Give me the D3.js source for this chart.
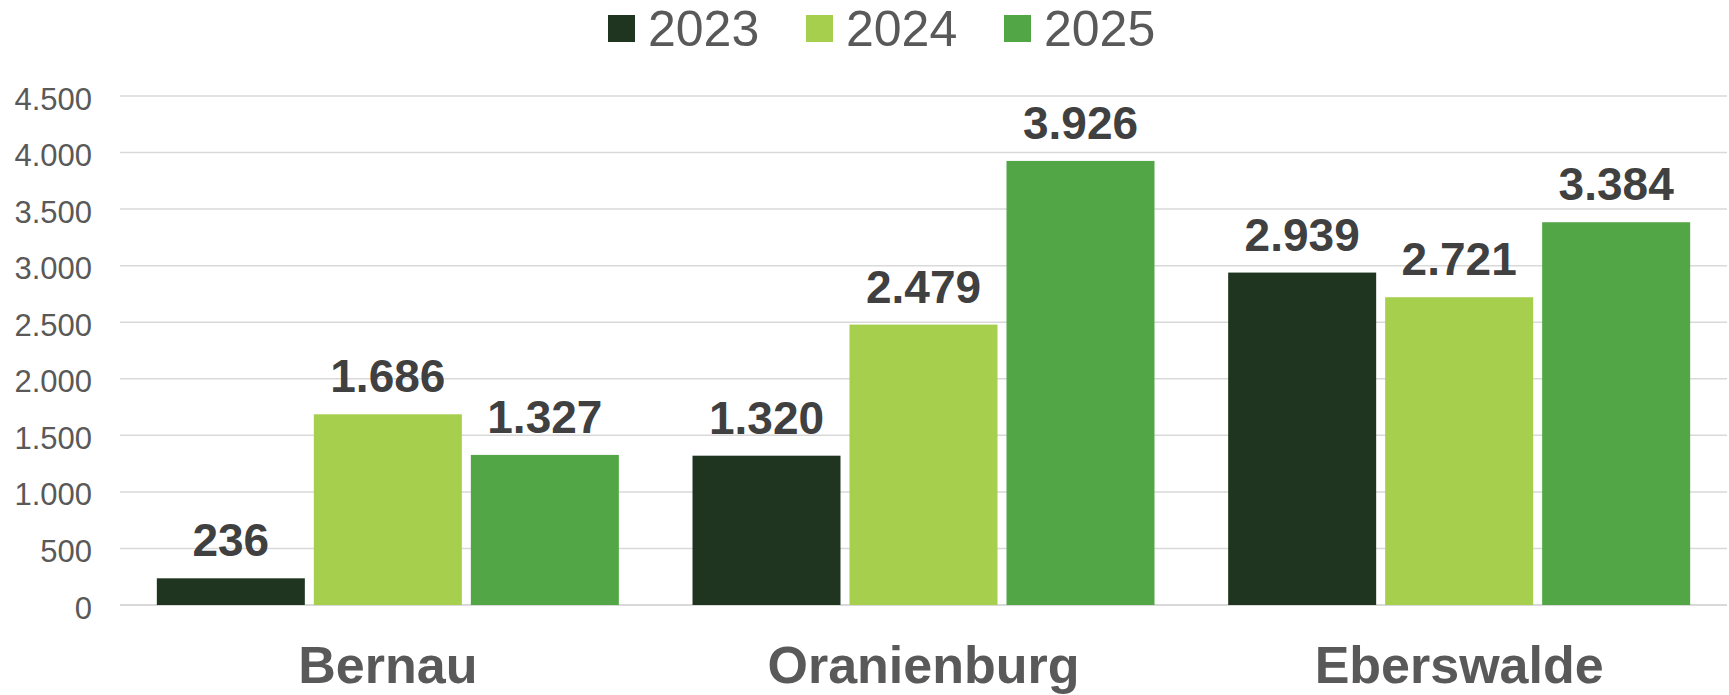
<!DOCTYPE html>
<html>
<head>
<meta charset="utf-8">
<script src="https://cdn.jsdelivr.net/npm/d3@7"></script>
<style>
  html, body { margin: 0; padding: 0; background: #ffffff; }
  svg { display: block; }
  text { font-family: "Liberation Sans", Arial, sans-serif; }
</style>
</head>
<body>
<svg id="chart" width="1729" height="695"></svg>
<script>
const categories = ["Bernau", "Oranienburg", "Eberswalde"];
const years = ["2023", "2024", "2025"];
const values2023 = [236, 1320, 2939];
const values2024 = [1686, 2479, 2721];
const values2025 = [1327, 3926, 3384];
const yTicks = [0, 500, 1000, 1500, 2000, 2500, 3000, 3500, 4000, 4500];
const colors = ["#1F3520", "#A5CF4C", "#52A645"];

const seriesValues = [values2023, values2024, values2025];

const svg = d3.select("#chart");
const plotLeft = 120, plotRight = 1727, plotTop = 96, plotBottom = 605;

const y = d3.scaleLinear().domain([0, 4500]).range([plotBottom, plotTop]);
const x0 = d3.scaleBand().domain(categories).range([plotLeft, plotRight]).paddingInner(0).paddingOuter(0);
const x1 = d3.scaleBand().domain(years).range([0, x0.bandwidth()]).paddingInner(0.0573).paddingOuter(0.2346);

const fmt = v => d3.format(",")(v).replace(/,/g, ".");

// gridlines
svg.append("g").selectAll("line").data(yTicks).join("line")
  .attr("x1", plotLeft).attr("x2", plotRight)
  .attr("y1", d => y(d)).attr("y2", d => y(d))
  .attr("stroke", "#D9D9D9").attr("stroke-width", d => d === 0 ? 2 : 1.5);

// y axis labels
const yAxis = d3.axisLeft(y).tickValues(yTicks).tickSize(0).tickPadding(0).tickFormat(fmt);
const yg = svg.append("g").attr("transform", `translate(92,0)`).call(yAxis);
yg.select(".domain").remove();
yg.selectAll("text")
  .attr("font-size", 31).attr("fill", "#595959")
  .attr("font-family", "'Liberation Sans', Arial, sans-serif")
  .attr("dy", 13).attr("x", 0);

// bars
const groups = svg.append("g").selectAll("g").data(categories).join("g")
  .attr("transform", d => `translate(${x0(d)},0)`);

groups.each(function(cat, ci) {
  const g = d3.select(this);
  years.forEach((yr, si) => {
    const v = seriesValues[si][ci];
    g.append("rect")
      .attr("x", x1(yr)).attr("width", x1.bandwidth())
      .attr("y", y(v)).attr("height", y(0) - y(v))
      .attr("fill", colors[si]);
    g.append("text")
      .attr("x", x1(yr) + x1.bandwidth() / 2)
      .attr("y", y(v) - 22)
      .attr("text-anchor", "middle")
      .attr("font-size", 46).attr("font-weight", "bold")
      .attr("fill", "#404040")
      .text(fmt(v));
  });
});

// category axis labels
const xAxis = d3.axisBottom(x0).tickSize(0).tickPadding(0);
const xg = svg.append("g").attr("transform", `translate(0,${plotBottom})`).call(xAxis);
xg.select(".domain").remove();
xg.selectAll("text")
  .attr("font-size", 52).attr("font-weight", "bold").attr("fill", "#595959")
  .attr("font-family", "'Liberation Sans', Arial, sans-serif")
  .attr("y", 78).attr("dy", 0);

// legend
const legendX = [608, 806, 1004];
const lg = svg.append("g");
years.forEach((yr, i) => {
  lg.append("rect").attr("x", legendX[i]).attr("y", 15).attr("width", 27).attr("height", 27).attr("fill", colors[i]);
  lg.append("text").attr("x", legendX[i] + 40).attr("y", 46)
    .attr("font-size", 50).attr("fill", "#595959").text(yr);
});
</script>
</body>
</html>
